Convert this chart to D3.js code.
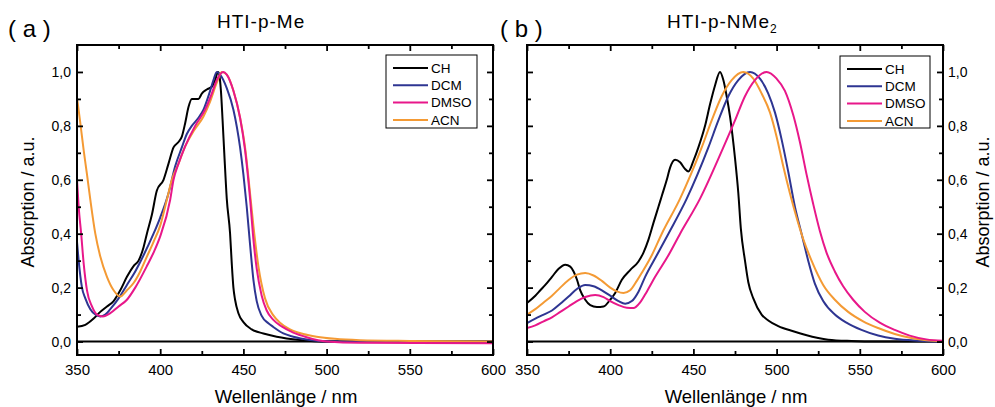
<!DOCTYPE html>
<html>
<head>
<meta charset="utf-8">
<script src="https://cdn.jsdelivr.net/npm/d3@7"></script>
<style>
  html, body { margin: 0; padding: 0; background: #fff; }
  svg { display: block; font-family: "Liberation Sans", Arial, sans-serif; }
</style>
</head>
<body>
<svg id="chart" width="995" height="407"></svg>
<script>
// ---------- DATA ----------
const seriesNames = ["CH", "DCM", "DMSO", "ACN"];
const seriesColors = ["#000000", "#2e3592", "#e8178a", "#f49a34"];
const xTicksMajor = [350, 400, 450, 500, 550, 600];
const xTicksMinor = [375, 425, 475, 525, 575];
const yTicksMajor = [0.0, 0.2, 0.4, 0.6, 0.8, 1.0];
const yTicksMinor = [0.1, 0.3, 0.5, 0.7, 0.9];
const baseline = [0];

// Panel (a) HTI-p-Me  [wavelength nm, absorption]
const a_CH = [[350,0.055],[355,0.062],[360,0.085],[364,0.11],[368,0.13],[372,0.15],[376,0.19],[380,0.24],[384,0.28],[387,0.30],[390,0.35],[392,0.40],[395,0.47],[398,0.56],[402,0.60],[405,0.66],[408,0.72],[411,0.74],[413,0.76],[415,0.81],[417,0.87],[419,0.90],[421,0.90],[423,0.90],[425,0.92],[428,0.935],[431,0.945],[433,0.97],[434.7,1.0],[435.5,0.99],[436.5,0.93],[437.5,0.82],[438.5,0.70],[440,0.53],[442,0.40],[443,0.29],[444,0.20],[445,0.155],[447,0.105],[450,0.072],[455,0.045],[462,0.03],[470,0.018],[484,0.006],[500,0.0],[600,0.0]];
const a_DCM = [[350,0.37],[351,0.30],[353,0.20],[355,0.16],[358,0.12],[361,0.10],[364,0.093],[367,0.10],[370,0.12],[375,0.16],[380,0.21],[385,0.26],[390,0.32],[396,0.40],[400,0.46],[405,0.55],[409,0.65],[413,0.72],[416,0.77],[419,0.80],[423,0.83],[426,0.86],[430,0.93],[432,0.97],[434,1.0],[436,0.99],[440,0.94],[444,0.86],[448,0.72],[450,0.62],[452,0.50],[454,0.36],[456,0.23],[458,0.15],[461,0.095],[465,0.068],[468,0.054],[474,0.03],[480,0.018],[490,0.006],[502,0.0],[600,0.0]];
const a_DMSO = [[350,0.60],[351,0.50],[352.5,0.40],[354,0.29],[356,0.19],[359,0.13],[362,0.10],[365.5,0.093],[370,0.105],[375,0.13],[380,0.155],[385,0.20],[392,0.28],[396,0.33],[400,0.39],[406,0.526],[408,0.60],[411,0.66],[415,0.724],[421,0.80],[427,0.86],[431,0.92],[434,0.97],[437.9,1.0],[440,0.99],[444,0.93],[448,0.83],[451,0.71],[454,0.53],[456,0.38],[458,0.27],[461,0.17],[464,0.115],[468,0.08],[473,0.056],[480,0.033],[488,0.016],[500,0.0],[520,-0.005],[600,-0.006]];
const a_ACN = [[350,0.905],[352,0.81],[354,0.71],[356,0.62],[358,0.526],[361,0.40],[364,0.315],[368,0.24],[372,0.19],[376,0.167],[380,0.19],[384,0.217],[388,0.26],[392,0.315],[396,0.37],[400,0.43],[404,0.526],[407,0.60],[411,0.66],[415,0.724],[420,0.78],[426,0.835],[430,0.89],[434,0.96],[437,1.0],[440,0.99],[444,0.93],[448,0.83],[451,0.72],[454,0.55],[456,0.43],[459,0.28],[463,0.16],[468,0.097],[472,0.07],[478,0.045],[486,0.028],[494,0.018],[505,0.01],[520,0.005],[550,0.002],[600,0.0]];

// Panel (b) HTI-p-NMe2
const b_CH = [[350,0.143],[355,0.17],[358,0.19],[361,0.21],[365,0.24],[369,0.27],[373,0.285],[376,0.278],[378,0.26],[380,0.23],[382,0.19],[385,0.155],[388,0.135],[392,0.128],[396,0.13],[400,0.155],[403,0.18],[407,0.229],[412,0.265],[417,0.297],[420,0.33],[423,0.378],[426,0.44],[429,0.50],[431,0.54],[434,0.60],[436,0.645],[439,0.674],[442,0.665],[445,0.64],[447,0.631],[450,0.67],[453,0.72],[457,0.80],[460,0.88],[463,0.95],[466,1.0],[468,0.97],[470,0.91],[472,0.835],[475,0.68],[477,0.55],[478.5,0.42],[481,0.30],[483,0.22],[486,0.16],[491,0.10],[495,0.078],[501,0.057],[510,0.038],[517,0.025],[525,0.013],[531,0.007],[545,0.002],[560,0.0],[600,0.0]];
const b_DCM = [[350,0.068],[355,0.085],[360,0.10],[365,0.115],[370,0.14],[375,0.167],[380,0.195],[385,0.21],[390,0.205],[395,0.19],[400,0.17],[405,0.15],[409,0.14],[413,0.15],[417,0.185],[421,0.24],[428,0.32],[435,0.40],[446,0.53],[459,0.72],[465,0.82],[471,0.91],[477,0.97],[484,1.0],[490,0.975],[495,0.92],[499,0.85],[503,0.75],[507,0.63],[511,0.50],[515,0.40],[519,0.30],[523,0.215],[528,0.15],[535,0.10],[542,0.07],[551,0.043],[561,0.022],[571,0.01],[585,0.003],[600,0.0]];
const b_DMSO = [[350,0.05],[355,0.06],[360,0.075],[365,0.09],[370,0.11],[375,0.13],[380,0.15],[385,0.165],[391,0.173],[396,0.165],[400,0.15],[405,0.135],[410,0.125],[414,0.124],[418,0.145],[422,0.185],[427,0.24],[435,0.32],[442,0.40],[454,0.53],[468,0.72],[475,0.82],[481,0.91],[487,0.97],[494,1.0],[500,0.975],[505,0.93],[510,0.84],[514,0.74],[518,0.62],[522,0.51],[526,0.41],[530,0.33],[535,0.26],[540,0.205],[546,0.155],[553,0.11],[562,0.07],[571,0.043],[580,0.022],[590,0.008],[600,0.003]];
const b_ACN = [[350,0.10],[355,0.12],[360,0.145],[365,0.17],[370,0.20],[375,0.228],[380,0.248],[385,0.254],[390,0.245],[395,0.225],[400,0.20],[404,0.186],[408,0.18],[412,0.19],[416,0.225],[419,0.255],[425,0.32],[431,0.40],[442,0.53],[455,0.72],[461,0.82],[467,0.91],[473,0.97],[480,1.0],[486,0.975],[491,0.92],[496,0.85],[500,0.76],[504,0.65],[508,0.55],[512,0.46],[516,0.38],[521,0.30],[528,0.21],[535,0.155],[543,0.11],[552,0.075],[561,0.05],[571,0.028],[581,0.013],[590,0.005],[600,0.002]];

const panels = [
  { label: "( a )", title: "HTI-p-Me", sub: "", series: [a_CH, a_DCM, a_DMSO, a_ACN],
    x0: 77, x1: 493, labelSide: "left", titleX: 217, tagX: 8, legend: { x: 386, y: 55, w: 91, h: 73 } },
  { label: "( b )", title: "HTI-p-NMe", sub: "2", series: [b_CH, b_DCM, b_DMSO, b_ACN],
    x0: 527, x1: 943, labelSide: "right", titleX: 667, tagX: 500, legend: { x: 840, y: 56, w: 90, h: 72 } }
];

// ---------- DRAW ----------
const svg = d3.select("#chart");
const plotTop = 45, plotBottom = 355;
const fmt = d => d.toFixed(1).replace(".", ",");

panels.forEach((p, pi) => {
  const x = d3.scaleLinear().domain([350, 600]).range([p.x0, p.x1]);
  const y = d3.scaleLinear().domain([-0.05, 1.1]).range([plotBottom, plotTop]);
  const g = svg.append("g");

  const clipId = "clip" + pi;
  svg.append("clipPath").attr("id", clipId).append("rect")
    .attr("x", p.x0).attr("y", plotTop).attr("width", p.x1 - p.x0).attr("height", plotBottom - plotTop);

  // baseline at zero
  g.selectAll(".base").data(baseline).enter().append("line")
    .attr("x1", p.x0).attr("x2", p.x1).attr("y1", d => y(d)).attr("y2", d => y(d))
    .attr("stroke", "#000").attr("stroke-width", 2);

  // curves
  const line = d3.line().x(d => x(d[0])).y(d => y(d[1])).curve(d3.curveMonotoneX);
  const order = [0, 1, 3, 2];
  order.forEach(i => {
    g.append("path").datum(p.series[i])
      .attr("clip-path", `url(#${clipId})`)
      .attr("d", line).attr("fill", "none")
      .attr("stroke", seriesColors[i]).attr("stroke-width", 2)
      .attr("stroke-linejoin", "round");
  });

  // axes (ticks inward)
  const styleAxis = sel => {
    sel.select(".domain").remove();
    sel.selectAll(".tick line").attr("stroke", "#000").attr("stroke-width", 1.8);
    sel.selectAll(".tick text").attr("fill", "#000");
  };
  g.append("g").attr("transform", `translate(0,${plotBottom})`)
    .call(d3.axisBottom(x).tickValues(xTicksMajor).tickSize(-6).tickPadding(9).tickFormat(d3.format("d")))
    .call(styleAxis).selectAll("text").style("font-size", "15px");
  g.append("g").attr("transform", `translate(0,${plotBottom})`)
    .call(d3.axisBottom(x).tickValues(xTicksMinor).tickSize(-4).tickFormat(""))
    .call(styleAxis);
  g.append("g").attr("transform", `translate(0,${plotTop})`)
    .call(d3.axisTop(x).tickValues(xTicksMajor).tickSize(-6).tickFormat(""))
    .call(styleAxis);
  g.append("g").attr("transform", `translate(0,${plotTop})`)
    .call(d3.axisTop(x).tickValues(xTicksMinor).tickSize(-4).tickFormat(""))
    .call(styleAxis);

  const leftAx = d3.axisLeft(y).tickValues(yTicksMajor).tickSize(-6);
  const rightAx = d3.axisRight(y).tickValues(yTicksMajor).tickSize(-6);
  if (p.labelSide === "left") { leftAx.tickFormat(fmt).tickPadding(6); rightAx.tickFormat(""); }
  else { rightAx.tickFormat(fmt).tickPadding(5); leftAx.tickFormat(""); }
  g.append("g").attr("transform", `translate(${p.x0},0)`).call(leftAx).call(styleAxis)
    .selectAll("text").style("font-size", "14px");
  g.append("g").attr("transform", `translate(${p.x1},0)`).call(rightAx).call(styleAxis)
    .selectAll("text").style("font-size", "14px");
  g.append("g").attr("transform", `translate(${p.x0},0)`)
    .call(d3.axisLeft(y).tickValues(yTicksMinor).tickSize(-4).tickFormat("")).call(styleAxis);
  g.append("g").attr("transform", `translate(${p.x1},0)`)
    .call(d3.axisRight(y).tickValues(yTicksMinor).tickSize(-4).tickFormat("")).call(styleAxis);

  // frame
  g.append("rect").attr("x", p.x0).attr("y", plotTop).attr("width", p.x1 - p.x0).attr("height", plotBottom - plotTop)
    .attr("fill", "none").attr("stroke", "#000").attr("stroke-width", 2);

  // legend
  const L = p.legend;
  const lg = g.append("g");
  lg.append("rect").attr("x", L.x).attr("y", L.y).attr("width", L.w).attr("height", L.h)
    .attr("fill", "#fff").attr("stroke", "#000").attr("stroke-width", 1);
  seriesNames.forEach((n, i) => {
    const yy = L.y + 13 + i * 17.3;
    lg.append("line").attr("x1", L.x + 7).attr("x2", L.x + 42).attr("y1", yy).attr("y2", yy)
      .attr("stroke", seriesColors[i]).attr("stroke-width", 2);
    lg.append("text").attr("x", L.x + 45).attr("y", yy).attr("dy", "0.35em")
      .style("font-size", "13.5px").text(n);
  });

  // titles
  const t = g.append("text").attr("x", p.titleX).attr("y", 28)
    .style("font-size", "19px").style("letter-spacing", "1px").text(p.title);
  if (p.sub) t.append("tspan").attr("dy", 5).style("font-size", "12px").text(p.sub);
  g.append("text").attr("x", p.tagX).attr("y", 37).style("font-size", "24px").text(p.label);

  // axis titles
  g.append("text").attr("x", (p.x0 + p.x1) / 2 + 1).attr("y", 403).attr("text-anchor", "middle")
    .style("font-size", "18.5px").text("Wellenlänge / nm");
  const yx = p.labelSide === "left" ? 34 : 989;
  g.append("text").attr("transform", `translate(${yx},202) rotate(-90)`).attr("text-anchor", "middle")
    .style("font-size", "18px").text("Absorption / a.u.");
});
</script>
</body>
</html>
